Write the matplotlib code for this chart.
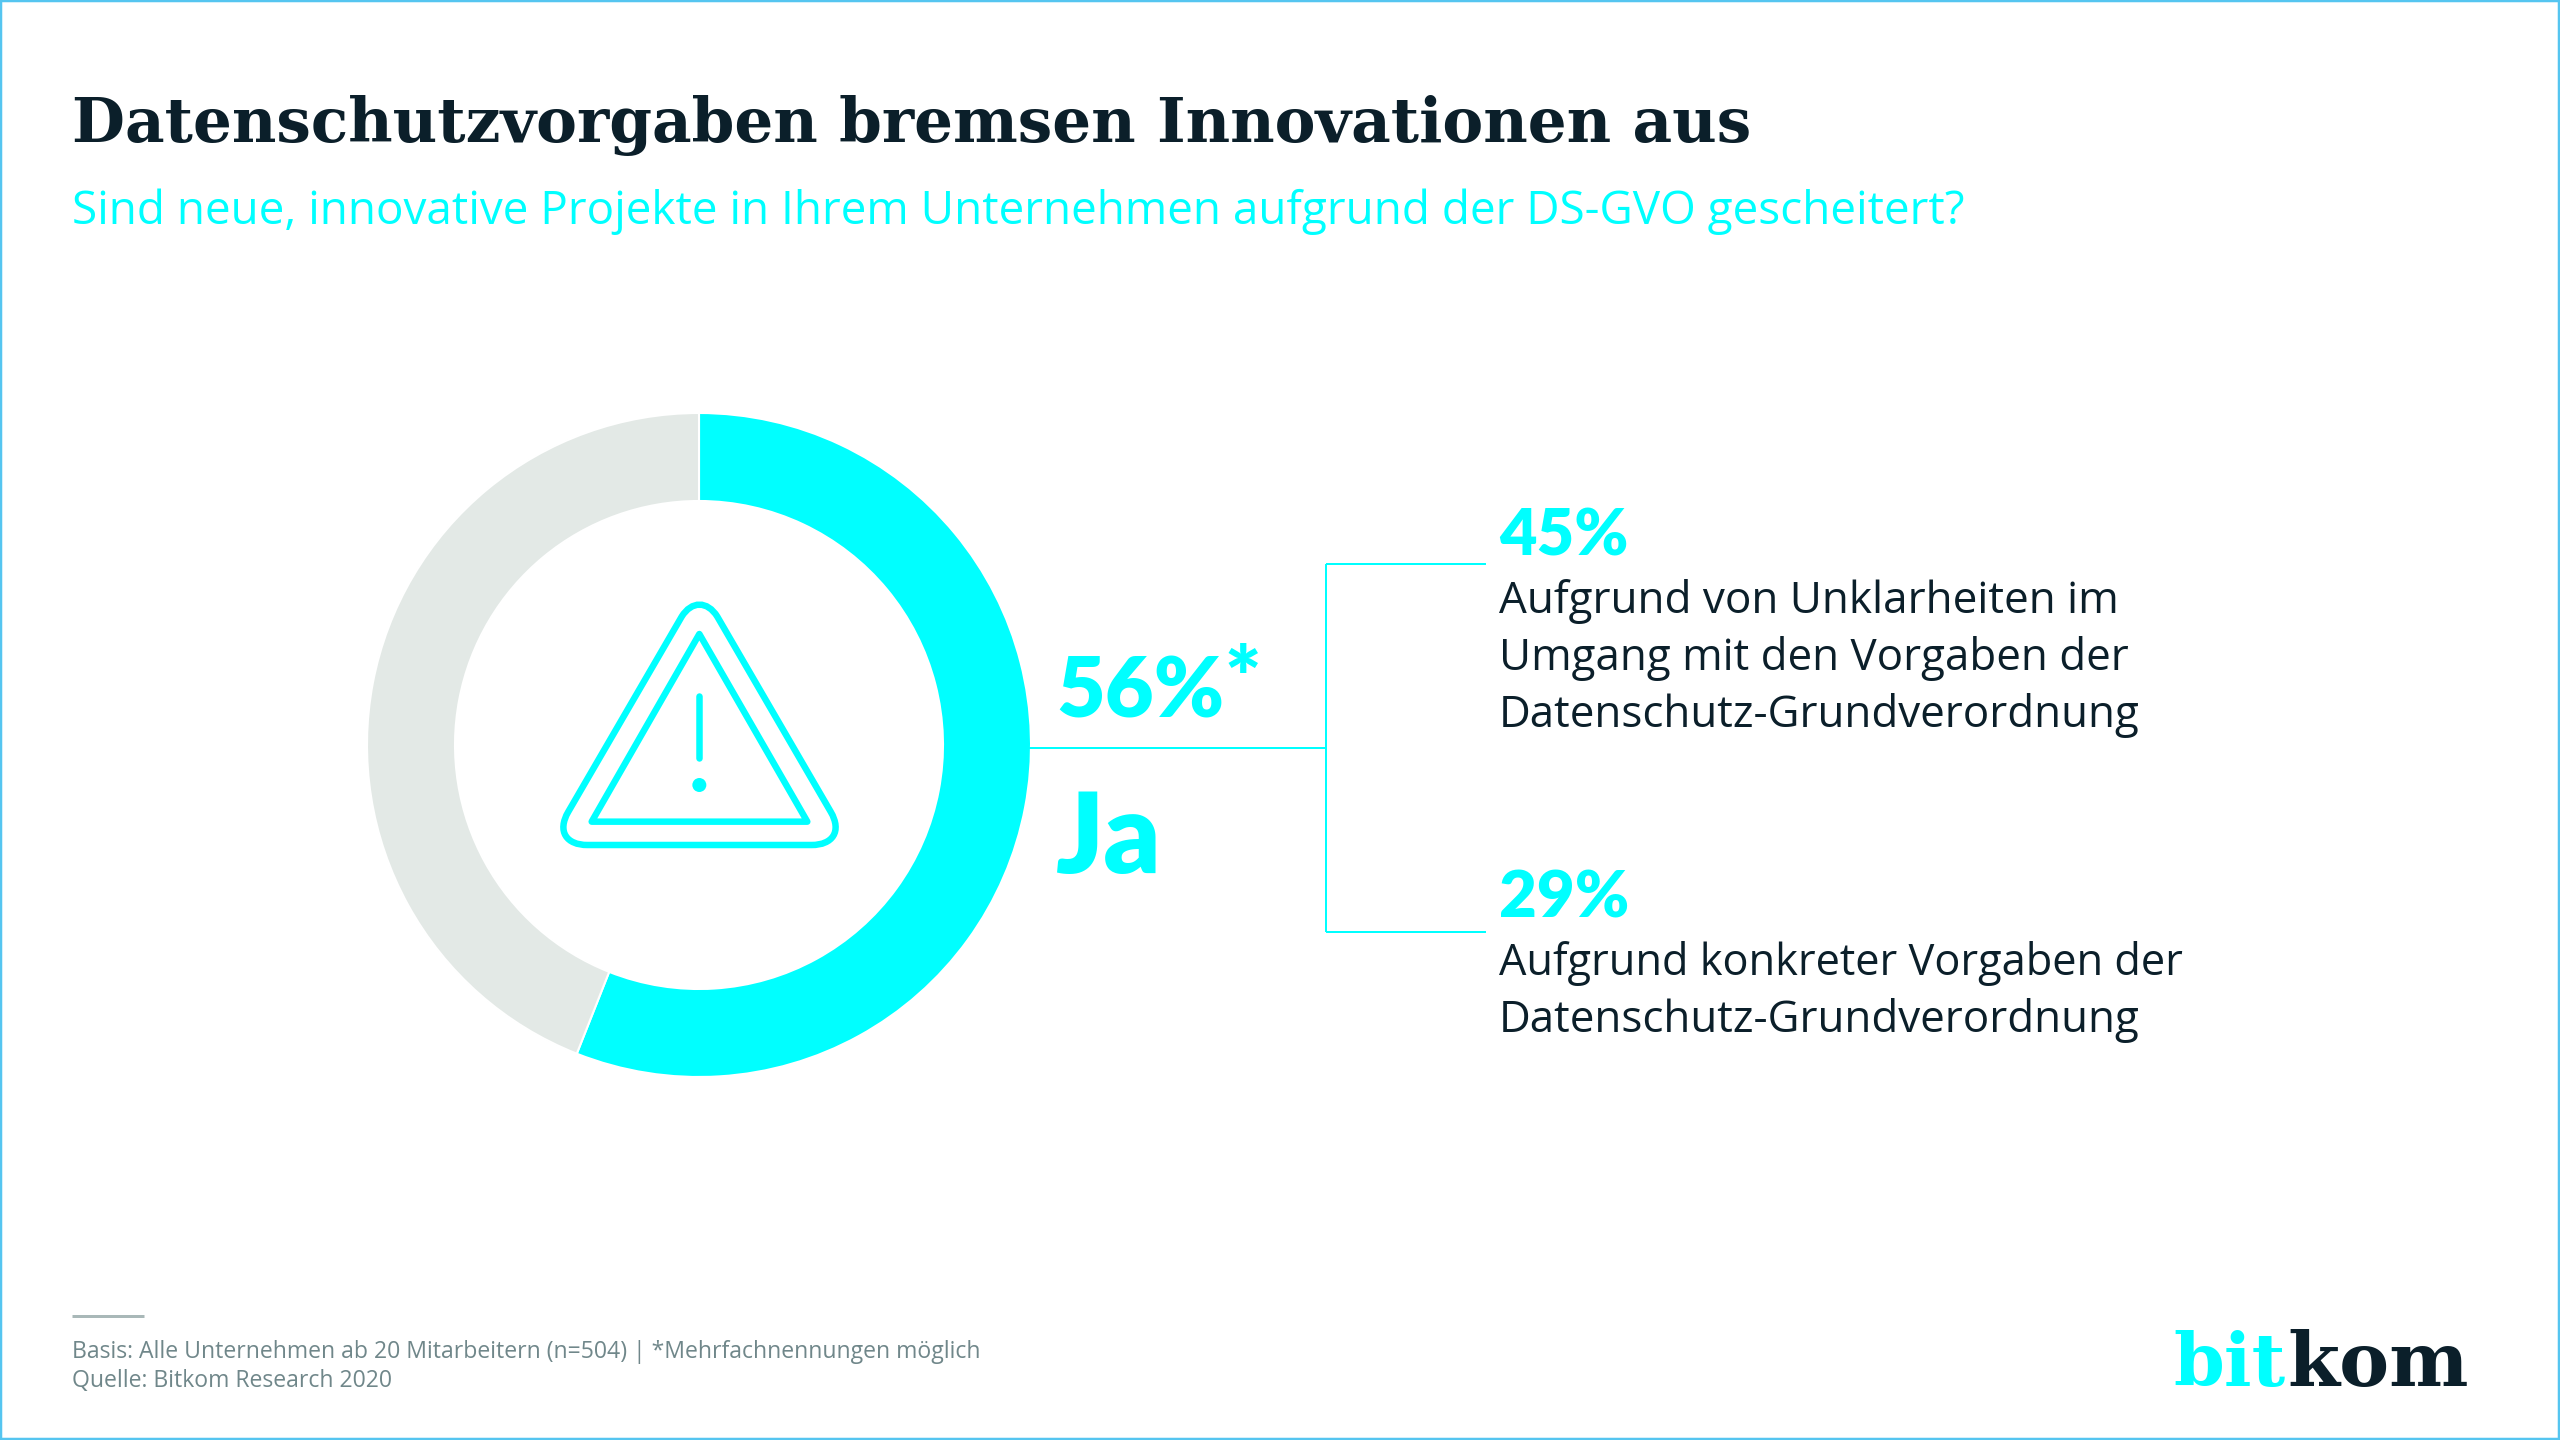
"""Bitkom chart: DS-GVO and failed innovation projects (donut plus two callouts)."""

import matplotlib

matplotlib.use("Agg")
import matplotlib.pyplot as plt
from matplotlib.patches import Circle, PathPatch, Polygon, Rectangle
from matplotlib.path import Path

W, H = 2560, 1440
CYAN = "#00FFFF"
GREY = "#E3E9E6"
DARK = "#0B1F2A"
FOOT = "#70878A"
SANS = "Open Sans"
BIG = "Lato"
SERIF = "DejaVu Serif"

TITLE = "Datenschutzvorgaben bremsen Innovationen aus"
SUBTITLE = "Sind neue, innovative Projekte in Ihrem Unternehmen aufgrund der DS-GVO gescheitert?"
SHARE_LABELS = ["Ja", "Nein"]
SHARES = [56, 44]
SHARE_COLORS = [CYAN, GREY]
MAIN_VALUE = "56%"
MAIN_MARK = "*"
MAIN_LABEL = "Ja"
REASON_VALUES = ["45%", "29%"]
REASON_1 = ["Aufgrund von Unklarheiten im", "Umgang mit den Vorgaben der",
            "Datenschutz-Grundverordnung"]
REASON_2 = ["Aufgrund konkreter Vorgaben der", "Datenschutz-Grundverordnung"]
FOOTER = ["Basis: Alle Unternehmen ab 20 Mitarbeitern (n=504) | *Mehrfachnennungen möglich",
          "Quelle: Bitkom Research 2020"]

fig = plt.figure(figsize=(W / 100, H / 100), dpi=100, facecolor="white")

# donut, in its own square axes
cx, cy, r_out, r_in = 699, 745, 332, 244
ax_pie = fig.add_axes([(cx - r_out) / W, 1 - (cy + r_out) / H, 2 * r_out / W, 2 * r_out / H])
ax_pie.pie(SHARES, colors=SHARE_COLORS, startangle=90, counterclock=False, radius=1,
           wedgeprops={"width": 1 - r_in / r_out, "edgecolor": "white", "linewidth": 1.5})
ax_pie.set_xlim(-1, 1)
ax_pie.set_ylim(-1, 1)
ax_pie.axis("off")

# everything else is placed in image pixels on a full-figure overlay
ax = fig.add_axes([0, 0, 1, 1], facecolor="none")
ax.set_xlim(0, W)
ax.set_ylim(H, 0)
ax.axis("off")


def px(n):
    return n * 0.72


def fit_text(x, y, s, width, color, family=SANS, weight="normal"):
    """Baseline-anchored text, font size scaled so the string spans `width` pixels."""
    t = ax.text(x, y, s, color=color, family=family, weight=weight,
                fontsize=40, va="baseline", ha="left")
    measured = t.get_window_extent(fig.canvas.get_renderer()).width
    t.set_fontsize(40 * width / measured)
    return t


fit_text(72, 142, TITLE, 1677, DARK, family=SERIF, weight="bold")
fit_text(72, 224, SUBTITLE, 1891, CYAN)

fit_text(1056, 718, MAIN_VALUE, 168, CYAN, family=BIG, weight="heavy")
ax.text(1224, 708, MAIN_MARK, color=CYAN, family=BIG, weight="heavy", fontsize=62,
        va="baseline", ha="left")
fit_text(1056, 873, MAIN_LABEL, 106, CYAN, family=BIG, weight="heavy")

fit_text(1499, 555, REASON_VALUES[0], 129, CYAN, family=BIG, weight="heavy")
fit_text(1499, 917, REASON_VALUES[1], 130, CYAN, family=BIG, weight="heavy")
for y, line, w in zip([613, 670, 727], REASON_1, [619, 628, 640]):
    fit_text(1499, y, line, w, DARK)
for y, line, w in zip([975, 1032], REASON_2, [684, 640]):
    fit_text(1499, y, line, w, DARK)

# connector lines
line_kw = {"color": CYAN, "lw": px(2), "solid_capstyle": "butt"}
ax.plot([1029, 1326], [748, 748], **line_kw)
ax.plot([1326, 1326], [564, 932], **line_kw)
ax.plot([1326, 1486], [564, 564], **line_kw)
ax.plot([1326, 1486], [932, 932], **line_kw)

# warning icon, outline traced in 3x crop units around (500, 560)
ic = lambda p: (500 + p[0] / 3, 560 + p[1] / 3)
outer = [
    (Path.MOVETO, (545, 170)),
    (Path.LINETO, (205, 755)),
    (Path.CURVE4, (170, 815)), (Path.CURVE4, (200, 855)), (Path.CURVE4, (262, 855)),
    (Path.LINETO, (935, 855)),
    (Path.CURVE4, (997, 855)), (Path.CURVE4, (1027, 815)), (Path.CURVE4, (992, 755)),
    (Path.LINETO, (652, 170)),
    (Path.CURVE4, (622, 122)), (Path.CURVE4, (575, 122)), (Path.CURVE4, (545, 170)),
    (Path.CLOSEPOLY, (545, 170)),
]
codes, verts = zip(*outer)
ax.add_patch(PathPatch(Path([ic(v) for v in verts], codes), fill=False, edgecolor=CYAN,
                       lw=px(6.5)))
ax.add_patch(Polygon([ic((598, 222)), ic((275, 785)), ic((922, 785))], closed=True, fill=False,
                     edgecolor=CYAN, lw=px(6.5), joinstyle="round"))
ax.plot([ic((598, 408))[0]] * 2, [ic((598, 408))[1], ic((598, 593))[1]], color=CYAN, lw=px(6.5),
        solid_capstyle="round")
ax.add_patch(Circle(ic((598, 675)), 7, color=CYAN, lw=0))

# footer
ax.plot([72, 144], [1316, 1316], color="#A9B8B8", lw=px(3), solid_capstyle="butt")
fit_text(72, 1358, FOOTER[0], 908, FOOT)
fit_text(72, 1387, FOOTER[1], 320, FOOT)

# logo
fit_text(2173, 1386, "bit", 112, CYAN, family=SERIF, weight="bold")
fit_text(2287, 1386, "kom", 181, DARK, family=SERIF, weight="bold")

# thin frame round the whole picture
ax.add_patch(Rectangle((1, 1), W - 2, H - 2, fill=False, edgecolor="#55C5F0", lw=px(2.5)))

fig.savefig("out.png", dpi=100, facecolor="white")
